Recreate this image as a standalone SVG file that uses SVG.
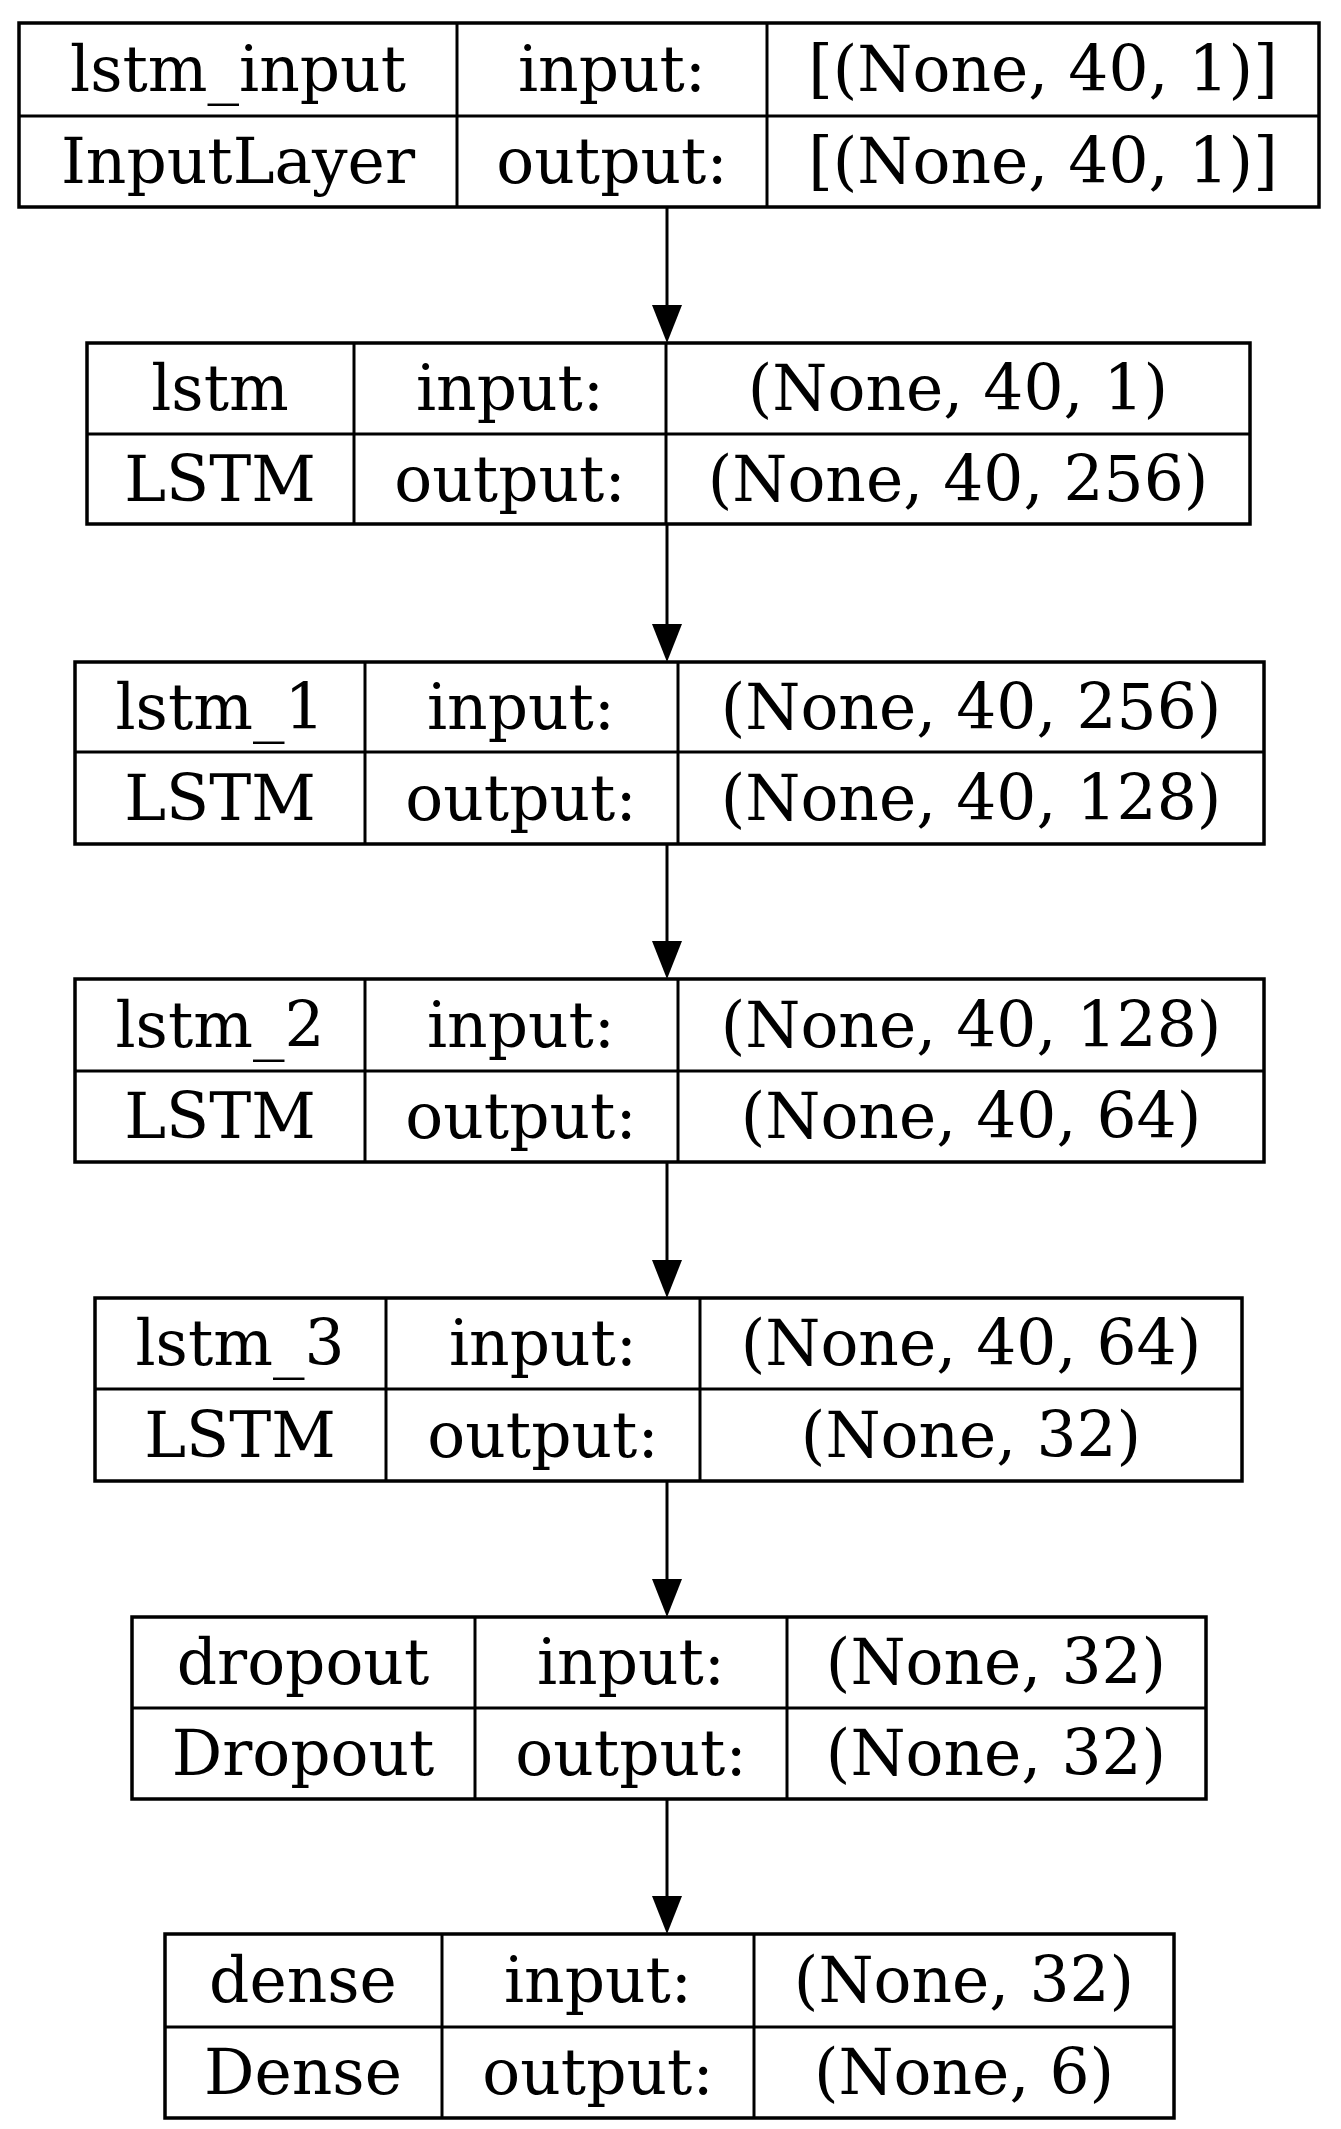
<svg xmlns="http://www.w3.org/2000/svg" width="1341" height="2129" viewBox="0 0 1341 2129">
<defs>
<style>
rect{fill:#fff;stroke:#000;stroke-width:3.5}
line.d{stroke:#000;stroke-width:3}
text{font-family:"DejaVu Serif","Liberation Serif",serif;font-size:63px;text-anchor:middle;dominant-baseline:central;fill:#000}
.e{stroke:#000;stroke-width:3;fill:none}
</style>
</defs>
<rect x="0" y="0" width="1341" height="2129" style="stroke:none"/>
<g id="edges">
<line class="e" x1="667" y1="207" x2="667" y2="310"/><path d="M652,305 L682,305 L667,343 Z"/>
<line class="e" x1="667" y1="524" x2="667" y2="629"/><path d="M652,624 L682,624 L667,662 Z"/>
<line class="e" x1="667" y1="844" x2="667" y2="946"/><path d="M652,941 L682,941 L667,979 Z"/>
<line class="e" x1="667" y1="1162" x2="667" y2="1265"/><path d="M652,1260 L682,1260 L667,1298 Z"/>
<line class="e" x1="667" y1="1481" x2="667" y2="1584"/><path d="M652,1579 L682,1579 L667,1617 Z"/>
<line class="e" x1="667" y1="1799" x2="667" y2="1901"/><path d="M652,1896 L682,1896 L667,1934 Z"/>
</g>
<g id="lstm_input">
<rect x="19" y="23" width="1300" height="184"/>
<line class="d" x1="19" y1="116" x2="1319" y2="116"/><line class="d" x1="457" y1="23" x2="457" y2="207"/><line class="d" x1="767" y1="23" x2="767" y2="207"/>
<text x="238" y="69">lstm_input</text><text x="612" y="69">input:</text><text x="1043" y="69">[(None, 40, 1)]</text>
<text x="238" y="161">InputLayer</text><text x="612" y="161">output:</text><text x="1043" y="161">[(None, 40, 1)]</text>
</g>
<g id="lstm">
<rect x="87" y="343" width="1163" height="181"/>
<line class="d" x1="87" y1="434" x2="1250" y2="434"/><line class="d" x1="354" y1="343" x2="354" y2="524"/><line class="d" x1="666" y1="343" x2="666" y2="524"/>
<text x="220" y="388">lstm</text><text x="510" y="388">input:</text><text x="958" y="388">(None, 40, 1)</text>
<text x="220" y="479">LSTM</text><text x="510" y="479">output:</text><text x="958" y="479">(None, 40, 256)</text>
</g>
<g id="lstm_1">
<rect x="75" y="662" width="1189" height="182"/>
<line class="d" x1="75" y1="752" x2="1264" y2="752"/><line class="d" x1="365" y1="662" x2="365" y2="844"/><line class="d" x1="678" y1="662" x2="678" y2="844"/>
<text x="220" y="707">lstm_1</text><text x="521" y="707">input:</text><text x="971" y="707">(None, 40, 256)</text>
<text x="220" y="798">LSTM</text><text x="521" y="798">output:</text><text x="971" y="798">(None, 40, 128)</text>
</g>
<g id="lstm_2">
<rect x="75" y="979" width="1189" height="183"/>
<line class="d" x1="75" y1="1071" x2="1264" y2="1071"/><line class="d" x1="365" y1="979" x2="365" y2="1162"/><line class="d" x1="678" y1="979" x2="678" y2="1162"/>
<text x="220" y="1025">lstm_2</text><text x="521" y="1025">input:</text><text x="971" y="1025">(None, 40, 128)</text>
<text x="220" y="1116">LSTM</text><text x="521" y="1116">output:</text><text x="971" y="1116">(None, 40, 64)</text>
</g>
<g id="lstm_3">
<rect x="95" y="1298" width="1147" height="183"/>
<line class="d" x1="95" y1="1389" x2="1242" y2="1389"/><line class="d" x1="386" y1="1298" x2="386" y2="1481"/><line class="d" x1="700" y1="1298" x2="700" y2="1481"/>
<text x="240" y="1343">lstm_3</text><text x="543" y="1343">input:</text><text x="971" y="1343">(None, 40, 64)</text>
<text x="240" y="1435">LSTM</text><text x="543" y="1435">output:</text><text x="971" y="1435">(None, 32)</text>
</g>
<g id="dropout">
<rect x="132" y="1617" width="1074" height="182"/>
<line class="d" x1="132" y1="1708" x2="1206" y2="1708"/><line class="d" x1="475" y1="1617" x2="475" y2="1799"/><line class="d" x1="787" y1="1617" x2="787" y2="1799"/>
<text x="303" y="1662">dropout</text><text x="631" y="1662">input:</text><text x="996" y="1662">(None, 32)</text>
<text x="303" y="1753">Dropout</text><text x="631" y="1753">output:</text><text x="996" y="1753">(None, 32)</text>
</g>
<g id="dense">
<rect x="165" y="1934" width="1009" height="184"/>
<line class="d" x1="165" y1="2027" x2="1174" y2="2027"/><line class="d" x1="442" y1="1934" x2="442" y2="2118"/><line class="d" x1="754" y1="1934" x2="754" y2="2118"/>
<text x="303" y="1980">dense</text><text x="598" y="1980">input:</text><text x="964" y="1980">(None, 32)</text>
<text x="303" y="2072">Dense</text><text x="598" y="2072">output:</text><text x="964" y="2072">(None, 6)</text>
</g>
</svg>
